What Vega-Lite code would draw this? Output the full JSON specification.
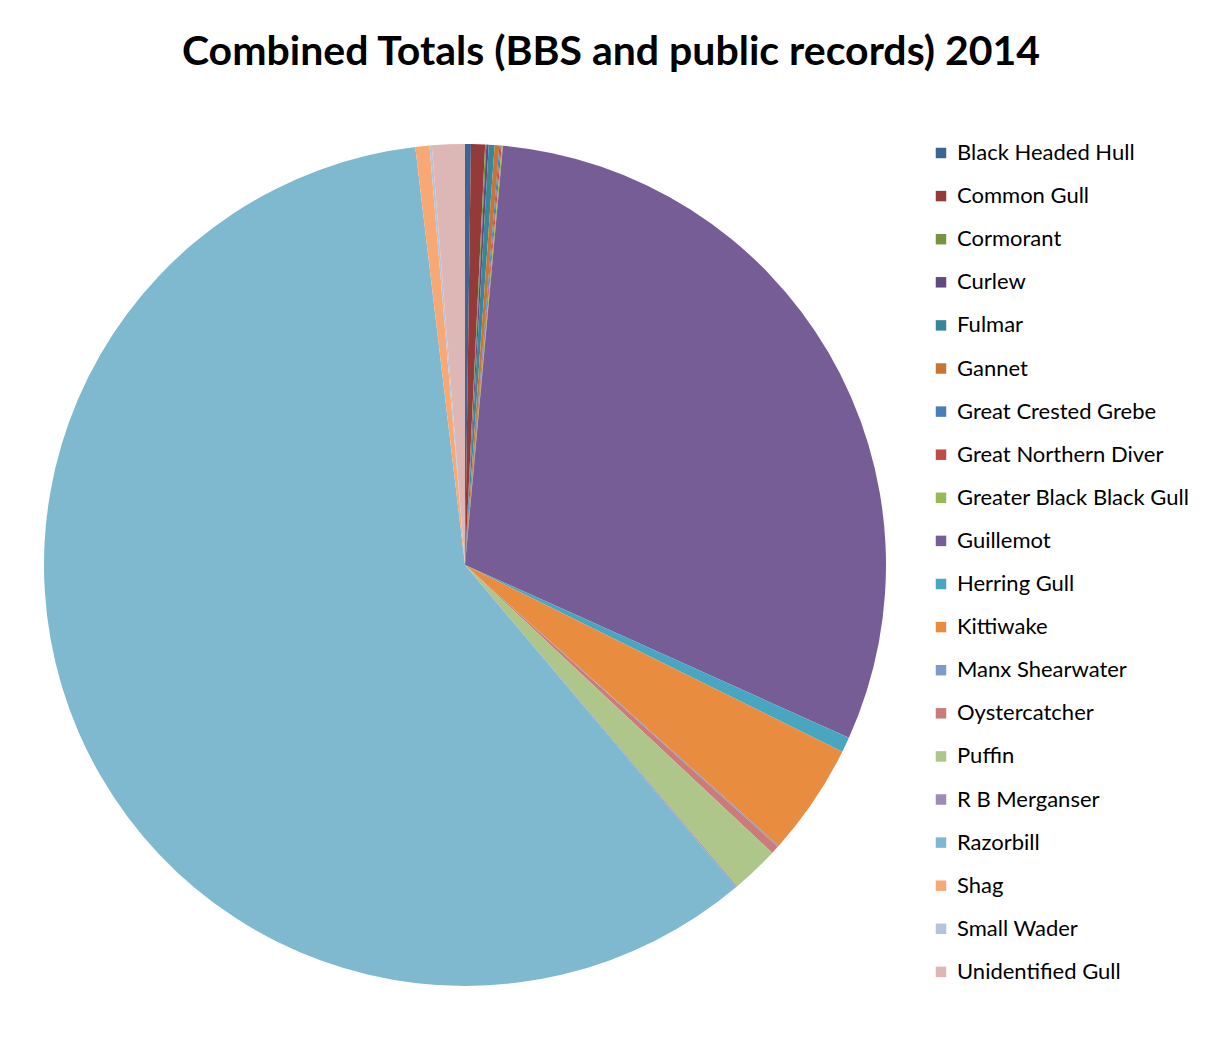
{
  "$schema": "https://vega.github.io/schema/vega-lite/v6.json",
  "autosize": "none",
  "width": 848,
  "height": 848,
  "padding": {"left": 41, "top": 141, "right": 323, "bottom": 50},
  "background": "white",
  "title": {
    "text": "Combined Totals (BBS and public records) 2014",
    "font": "Lato",
    "fontSize": 41,
    "fontWeight": "bold",
    "color": "#000000",
    "anchor": "middle",
    "limit": 1200,
    "dx": 146,
    "offset": 67
  },
  "data": {
    "values": [
      {"species": "Black Headed Hull", "count": 5},
      {"species": "Common Gull", "count": 12},
      {"species": "Cormorant", "count": 1},
      {"species": "Curlew", "count": 2},
      {"species": "Fulmar", "count": 5},
      {"species": "Gannet", "count": 4},
      {"species": "Great Crested Grebe", "count": 1},
      {"species": "Great Northern Diver", "count": 1},
      {"species": "Greater Black Black Gull", "count": 1},
      {"species": "Guillemot", "count": 675},
      {"species": "Herring Gull", "count": 13},
      {"species": "Kittiwake", "count": 96},
      {"species": "Manx Shearwater", "count": 1},
      {"species": "Oystercatcher", "count": 7},
      {"species": "Puffin", "count": 41},
      {"species": "R B Merganser", "count": 1},
      {"species": "Razorbill", "count": 1320},
      {"species": "Shag", "count": 12},
      {"species": "Small Wader", "count": 2},
      {"species": "Unidentified Gull", "count": 28}
    ]
  },
  "mark": {"type": "arc", "outerRadius": 421, "stroke": null},
  "encoding": {
    "theta": {"field": "count", "type": "quantitative", "stack": true},
    "order": {"field": "species", "type": "nominal", "sort": "ascending"},
    "color": {
      "field": "species",
      "type": "nominal",
      "scale": {
        "domain": ["Black Headed Hull", "Common Gull", "Cormorant", "Curlew", "Fulmar", "Gannet", "Great Crested Grebe", "Great Northern Diver", "Greater Black Black Gull", "Guillemot", "Herring Gull", "Kittiwake", "Manx Shearwater", "Oystercatcher", "Puffin", "R B Merganser", "Razorbill", "Shag", "Small Wader", "Unidentified Gull"],
        "range": ["#3A6594", "#943B39", "#789440", "#604B7C", "#37879B", "#C57636", "#4A7EBB", "#BE4B48", "#98B954", "#775D96", "#48A6C0", "#E88C40", "#7E9AC6", "#CB7B7A", "#AEC689", "#9C8BB4", "#7EB9CF", "#F7A874", "#B4C2DC", "#DDB6B6"]
      },
      "legend": {
        "title": null,
        "orient": "none",
        "legendX": 889,
        "legendY": 1,
        "symbolType": "square",
        "symbolSize": 110,
        "symbolStrokeWidth": 0,
        "labelFont": "Lato",
        "labelFontSize": 22,
        "labelColor": "#000000",
        "labelOffset": 5,
        "rowPadding": 21.1,
        "labelLimit": 400
      }
    }
  },
  "config": {"view": {"stroke": null}}
}
